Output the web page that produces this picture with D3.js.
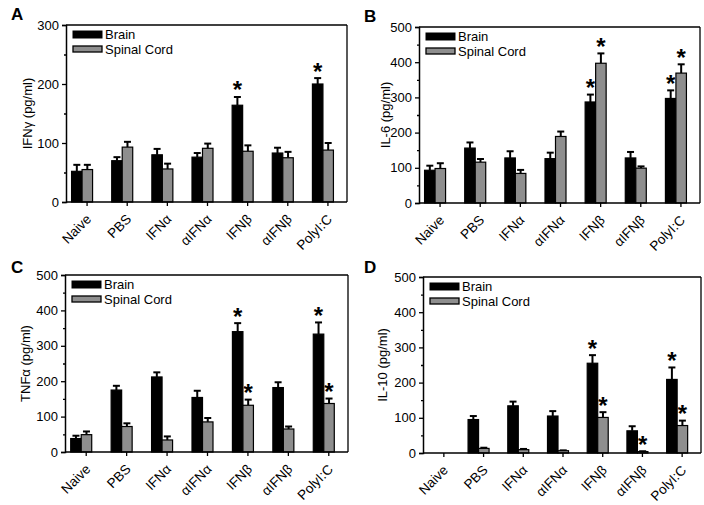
<!DOCTYPE html>
<html><head><meta charset="utf-8">
<script src="https://cdn.jsdelivr.net/npm/d3@7"></script>
<style>
html,body{margin:0;padding:0;background:#fff;}
svg{display:block;font-family:"Liberation Sans",Arial,sans-serif;}
</style></head>
<body>
<svg id="chart" width="704" height="505"></svg>
<script>
const categories = ["Naive","PBS","IFN\u03B1","\u03B1IFN\u03B1","IFN\u03B2","\u03B1IFN\u03B2","PolyI:C"];
const seriesNames = ["Brain","Spinal Cord"];
const panelLetters = ["A","B","C","D"];
const yTitles = ["IFN\u03B3 (pg/ml)","IL-6 (pg/ml)","TNF\u03B1 (pg/ml)","IL-10 (pg/ml)"];
const yMax = [300,500,500,500];

const ifngBrain = [52,70,80,76,164,83,200];
const ifngBrainErr = [11,6,10,7,14,9,10];
const ifngCord = [55,93,56,91,86,75,88];
const ifngCordErr = [8,9,9,8,10,10,12];
const ifngBrainStars = [4,6];
const ifngCordStars = [];

const il6Brain = [93,156,128,126,287,128,297];
const il6BrainErr = [13,16,19,17,21,17,23];
const il6Cord = [98,116,84,189,397,99,369];
const il6CordErr = [15,9,10,14,28,5,25];
const il6BrainStars = [4,6];
const il6CordStars = [4,6];

const tnfBrain = [38,175,212,154,340,182,333];
const tnfBrainErr = [8,12,13,19,24,15,33];
const tnfCord = [49,72,34,85,132,65,137];
const tnfCordErr = [9,9,10,11,16,7,14];
const tnfBrainStars = [4,6];
const tnfCordStars = [4,6];

const il10Brain = [0,95,134,105,255,63,209];
const il10BrainErr = [0,10,12,14,23,13,34];
const il10Cord = [0,13,9.5,6.5,101,4,78];
const il10CordErr = [0,2,2,1,15,1,14];
const il10BrainStars = [4,6];
const il10CordStars = [4,5,6];

const panelsData = [
  {brain:ifngBrain, brainErr:ifngBrainErr, cord:ifngCord, cordErr:ifngCordErr, bs:ifngBrainStars, cs:ifngCordStars},
  {brain:il6Brain, brainErr:il6BrainErr, cord:il6Cord, cordErr:il6CordErr, bs:il6BrainStars, cs:il6CordStars},
  {brain:tnfBrain, brainErr:tnfBrainErr, cord:tnfCord, cordErr:tnfCordErr, bs:tnfBrainStars, cs:tnfCordStars},
  {brain:il10Brain, brainErr:il10BrainErr, cord:il10Cord, cordErr:il10CordErr, bs:il10BrainStars, cs:il10CordStars}
];

// layout (positions only)
const boxes = [
  {l:66, r:347, t:25, b:202, titleOff:39},
  {l:419, r:700, t:27, b:203, titleOff:34},
  {l:65, r:348, t:275, b:452, titleOff:40},
  {l:423, r:701, t:277, b:453, titleOff:41}
];
const letterPos = [[11,20],[364,22],[11,273],[364,273]];
const GRAY = "#8e8e8e";
const svg = d3.select("#chart");

panelsData.forEach((pd, i) => {
  const bx = boxes[i];
  const g = svg.append("g");
  const x = d3.scaleBand().domain(categories).range([bx.l, bx.r]).padding(0);
  const y = d3.scaleLinear().domain([0, yMax[i]]).range([bx.b, bx.t]);
  const bw = 10.5;
  const off = [-15.5, -5];   // offsets of brain / cord bars from category centre
  const cx = c => x(c) + x.bandwidth()/2 + 1;

  g.append("line").attr("x1", bx.l).attr("x2", bx.r).attr("y1", bx.t).attr("y2", bx.t).attr("stroke","#000").attr("stroke-width",1.3);
  g.append("line").attr("x1", bx.r).attr("x2", bx.r).attr("y1", bx.t).attr("y2", bx.b).attr("stroke","#000").attr("stroke-width",1.3);

  const series = [
    {vals:pd.brain, err:pd.brainErr, stars:pd.bs, fill:"#000", o:off[0]},
    {vals:pd.cord, err:pd.cordErr, stars:pd.cs, fill:GRAY, o:off[1]}
  ];
  series.forEach(s => {
    categories.forEach((c, k) => {
      const v = s.vals[k];
      if (v <= 0) return;
      const x0 = cx(c) + s.o;
      const xm = x0 + bw/2;
      const top = y(v + s.err[k]);
      g.append("line").attr("x1", xm).attr("x2", xm).attr("y1", y(v)).attr("y2", top).attr("stroke","#000").attr("stroke-width",2);
      g.append("line").attr("x1", xm-3.5).attr("x2", xm+3.5).attr("y1", top).attr("y2", top).attr("stroke","#000").attr("stroke-width",2);
      g.append("rect").attr("x", x0).attr("y", y(v)).attr("width", bw).attr("height", y(0)-y(v))
        .attr("fill", s.fill).attr("stroke","#000").attr("stroke-width",1.2);
      if (s.stars.includes(k)) {
        g.append("text").attr("x", xm).attr("y", top + 1.5).attr("text-anchor","middle")
          .attr("font-size", 24).attr("font-weight","bold").text("*");
      }
    });
  });

  const yAxis = d3.axisLeft(y).tickValues(d3.range(0, yMax[i]+1, 100)).tickSize(4).tickPadding(3);
  const ya = g.append("g").attr("transform", `translate(${bx.l},0)`).call(yAxis);
  ya.select(".domain").attr("stroke-width",1.5);
  ya.selectAll(".tick line").attr("stroke-width",1.3);
  ya.selectAll("text").attr("font-size",13).attr("font-family","Liberation Sans, Arial, sans-serif").attr("fill","#000");
  const yMinor = d3.axisLeft(y).tickValues(d3.range(50, yMax[i], 100)).tickSize(2).tickFormat("");
  const ym = g.append("g").attr("transform", `translate(${bx.l},0)`).call(yMinor);
  ym.select(".domain").remove();
  ym.selectAll(".tick line").attr("stroke-width",1.3);

  const xAxis = d3.axisBottom(x).tickSize(4).tickSizeOuter(0);
  const xa = g.append("g").attr("transform", `translate(0,${bx.b})`).call(xAxis);
  xa.select(".domain").attr("stroke-width",1.5).attr("d", `M${bx.l},0H${bx.r}`);
  xa.selectAll(".tick").attr("transform", d => `translate(${cx(d)},0)`);
  xa.selectAll(".tick line").attr("stroke-width",1.3);
  xa.selectAll("text").attr("font-size",13.5).attr("font-family","Liberation Sans, Arial, sans-serif").attr("fill","#000")
    .attr("text-anchor","end").attr("dy",null).attr("y",null)
    .attr("transform","translate(5,18) rotate(-45)");

  g.append("text").attr("transform", `translate(${bx.l - bx.titleOff},${(bx.t+bx.b)/2}) rotate(-90)`)
    .attr("text-anchor","middle").attr("dy","0.35em").attr("font-size",13).text(yTitles[i]);

  const lx = bx.l + 7, ly = bx.t + 6;
  g.append("rect").attr("x", lx).attr("y", ly).attr("width", 29).attr("height", 7).attr("fill","#000").attr("stroke","#000");
  g.append("rect").attr("x", lx).attr("y", ly+15).attr("width", 29).attr("height", 6).attr("fill",GRAY).attr("stroke","#000").attr("stroke-width",1.3);
  g.append("text").attr("x", lx+32).attr("y", ly+8).attr("font-size",13).text(seriesNames[0]);
  g.append("text").attr("x", lx+32).attr("y", ly+23).attr("font-size",13).text(seriesNames[1]);

  svg.append("text").attr("x", letterPos[i][0]).attr("y", letterPos[i][1]).attr("font-size",17).attr("font-weight","bold").text(panelLetters[i]);
});
</script>
</body></html>
